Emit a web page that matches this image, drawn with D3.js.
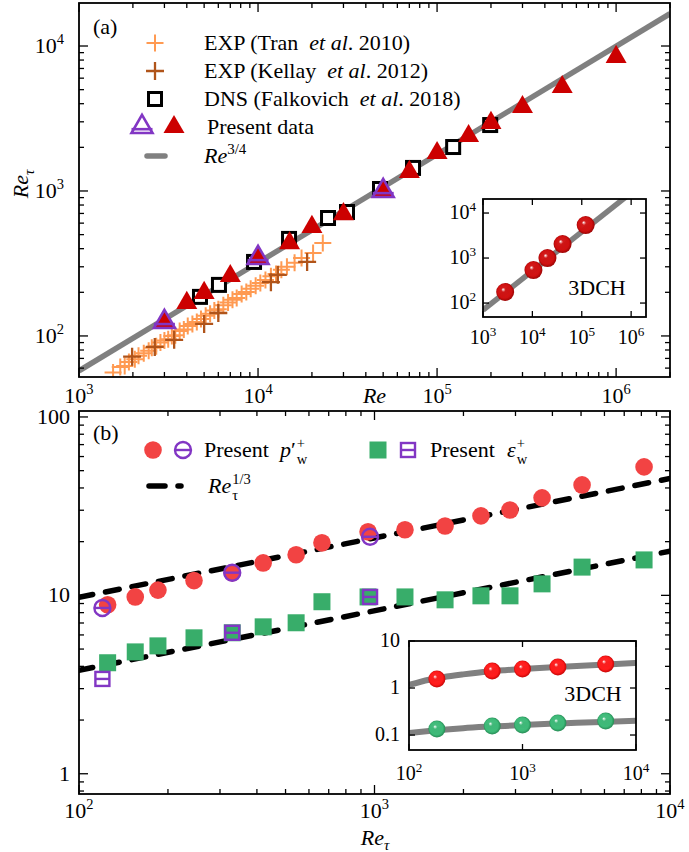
<!DOCTYPE html>
<html>
<head>
<meta charset="utf-8">
<script src="https://cdn.jsdelivr.net/npm/d3@7"></script>
<style>
  body { margin: 0; background: #fff; }
  svg { display: block; }
  text { font-family: "Liberation Serif", "Times New Roman", Times, serif; fill: #000; }
</style>
</head>
<body>
<svg id="chart" width="689" height="852"></svg>
<script>
// ---------- panel (a): Re_tau versus Re ----------
const tranRe = [1550, 1700, 1800, 1900, 2050, 2150, 2300, 2450, 2550, 2700, 2850, 3000, 3150, 3300, 3450, 3650, 3850, 4050, 4300, 4550, 4800, 5100, 5400, 5700, 6000, 6400, 6800, 7200, 7600, 8100, 8600, 9100, 9700, 10300, 11000, 11800, 12600, 13500, 14500, 16000, 17500, 20300, 23000];
const tranRt = [56, 61, 62, 66, 69, 73, 76, 79, 83, 85, 90, 93, 95, 100, 101, 108, 111, 117, 121, 125, 131, 138, 142, 150, 153, 163, 170, 178, 183, 195, 201, 212, 222, 232, 243, 258, 268, 286, 300, 320, 345, 373, 438];

const kellayRe = [1980, 2650, 3400, 5000, 6000, 11800, 12900, 18800];
const kellayRt = [72, 84, 94, 121, 144, 235, 264, 324];

const dnsRe = [4740, 6050, 9500, 14900, 24600, 31400, 48000, 73400, 123000, 198000];
const dnsRt = [186, 225, 324, 467, 651, 716, 1032, 1442, 2010, 2850];

const presRe = [3000, 4000, 5000, 7000, 10000, 15000, 20000, 30000, 50000, 70000, 100000, 150000, 200000, 300000, 500000, 1000000];
const presRt = [125, 169, 198, 259, 345, 437, 565, 693, 1000, 1353, 1828, 2393, 2944, 3795, 5210, 8400];

const presOpenRe = [3000, 10000, 50000];
const presOpenRt = [125, 345, 1000];

// Re^{3/4} reference line (end points)
const powLineRe = [1000, 2000000];
const powLineRt = [57.5, 16700];

// 3DCH inset
const chRe = [2810, 10500, 20200, 40900, 120000];
const chRt = [176, 541, 1000, 2050, 5410];
const chLineRe = [1000, 1000000];
const chLineRt = [70, 28200];

// ---------- panel (b): wall pressure / dissipation versus Re_tau ----------
const pRt = [125, 155, 185, 245, 330, 420, 543, 664, 951, 1268, 1733, 2292, 2874, 3690, 5040, 8170];
const pVal = [8.85, 9.8, 10.7, 12.1, 13.4, 15.2, 16.9, 19.7, 22.7, 23.3, 24.5, 27.9, 30.1, 35.2, 41.6, 52.5];
const pOpenRt = [120, 330, 966];
const pOpenVal = [8.5, 13.4, 21.3];

const eRt = [125, 155, 185, 245, 330, 420, 543, 664, 951, 1268, 1733, 2292, 2874, 3690, 5040, 8170];
const eVal = [4.19, 4.82, 5.21, 5.78, 6.17, 6.66, 7.02, 9.21, 9.8, 9.8, 9.44, 9.94, 9.94, 11.6, 14.4, 15.8];
const eOpenRt = [120, 330, 966];
const eOpenVal = [3.4, 6.17, 9.8];

// Re_tau^{1/3} guide lines (end points)
const dashRt = [100, 10000];
const pDash = [9.75, 45.2];
const eDash = [3.8, 17.7];

// 3DCH inset of panel (b)
const chPVal = [1.55, 2.30, 2.54, 2.80, 3.24];
const chEVal = [0.134, 0.155, 0.163, 0.180, 0.198];
const fitRt = [100, 150, 200, 300, 500, 700, 1000, 2000, 3000, 5000, 10000];
const fitP = [1.16, 1.5, 1.7, 1.95, 2.25, 2.4, 2.54, 2.8, 2.95, 3.12, 3.4];
const fitE = [0.11, 0.122, 0.13, 0.14, 0.15, 0.156, 0.163, 0.175, 0.182, 0.19, 0.2];

// ---------- colours ----------
const C = {
  tran: "#FF9A52", kellay: "#B0541A", red: "#CC0000", purple: "#8236C4",
  gray: "#808080", pRed: "#F24343", green: "#38AD6A"
};
const FS = 22;       // main text size
const FSI = 20;      // inset tick labels

const svg = d3.select("#chart");
const defs = svg.append("defs");

function ballGradient(id, base, dark) {
  const g = defs.append("radialGradient").attr("id", id)
    .attr("cx", "50%").attr("cy", "50%").attr("r", "55%")
    .attr("fx", "38%").attr("fy", "35%");
  g.append("stop").attr("offset", "0%").attr("stop-color", "#fff");
  g.append("stop").attr("offset", "22%").attr("stop-color", base).attr("stop-opacity", 0.95);
  g.append("stop").attr("offset", "70%").attr("stop-color", base);
  g.append("stop").attr("offset", "100%").attr("stop-color", dark);
}
ballGradient("ballDarkRed", "#D01010", "#8A0000");
ballGradient("ballRed", "#FF1A1A", "#B00000");
ballGradient("ballGreen", "#3DBA78", "#1E7A48");

// ---------- helpers ----------
function logTicks(scale) {
  const d = scale.domain();
  const lo = Math.min(d[0], d[1]), hi = Math.max(d[0], d[1]);
  const major = [], minor = [];
  for (let e = Math.floor(Math.log10(lo)); e <= Math.ceil(Math.log10(hi)); e++) {
    for (let k = 1; k < 10; k++) {
      const v = +(k * Math.pow(10, e)).toPrecision(6);
      if (v >= lo * 0.9999 && v <= hi * 1.0001) (k === 1 ? major : minor).push(v);
    }
  }
  return { major, minor };
}

function frame(g, x, y, o) {
  const [x0, x1] = x.range(), [yb, yt] = y.range();
  const M = o.major, m = o.minor;
  const xt = logTicks(x), yt2 = logTicks(y);
  const tick = (x1_, y1_, x2_, y2_) => g.append("line")
    .attr("x1", x1_).attr("y1", y1_).attr("x2", x2_).attr("y2", y2_)
    .attr("stroke", "#000").attr("stroke-width", o.tw || 1.3);
  const xs = [...xt.major.map(v => [v, M])].concat(o.minorTicks ? xt.minor.map(v => [v, m]) : []);
  xs.forEach(([v, L]) => { const px = x(v); tick(px, yb, px, yb - L); tick(px, yt, px, yt + L); });
  const ys = [...yt2.major.map(v => [v, M])].concat(o.minorTicks ? yt2.minor.map(v => [v, m]) : []);
  ys.forEach(([v, L]) => { const py = y(v); tick(x0, py, x0 + L, py); tick(x1, py, x1 - L, py); });
  g.append("rect").attr("x", x0).attr("y", yt).attr("width", x1 - x0).attr("height", yb - yt)
    .attr("fill", "none").attr("stroke", "#000").attr("stroke-width", o.sw || 1.8);
}

function powLabel(g, x, y, exp, size, anchor) {
  const t = g.append("text").attr("x", x).attr("y", y).attr("font-size", size)
    .attr("text-anchor", anchor);
  t.append("tspan").text("10");
  t.append("tspan").attr("dy", -0.42 * size).attr("font-size", size * 0.66).text(exp);
  return t;
}

function crossPath(s) { return `M${-s},0H${s}M0,${-s}V${s}`; }
function triPath(s) { const h = s * Math.sqrt(3) / 2; return `M0,${-2 * h / 3}L${s / 2},${h / 3}L${-s / 2},${h / 3}Z`; }

function drawOpenTriangle(g, cx, cy, s) {
  const h = s * Math.sqrt(3) / 2;
  g.append("path").attr("transform", `translate(${cx},${cy})`).attr("d", triPath(s))
    .attr("fill", "none").attr("stroke", C.purple).attr("stroke-width", 2.6).attr("stroke-linejoin", "miter");
  g.append("line").attr("x1", cx - s / 2).attr("x2", cx + s / 2)
    .attr("y1", cy + h * 0.12).attr("y2", cy + h * 0.12)
    .attr("stroke", C.purple).attr("stroke-width", 2.6);
}
function drawOpenCircle(g, cx, cy, r) {
  g.append("circle").attr("cx", cx).attr("cy", cy).attr("r", r)
    .attr("fill", "none").attr("stroke", C.purple).attr("stroke-width", 2.4);
  g.append("line").attr("x1", cx - r).attr("x2", cx + r).attr("y1", cy).attr("y2", cy)
    .attr("stroke", C.purple).attr("stroke-width", 2.4);
}
function drawOpenSquare(g, cx, cy, s) {
  g.append("rect").attr("x", cx - s / 2).attr("y", cy - s / 2).attr("width", s).attr("height", s)
    .attr("fill", "none").attr("stroke", C.purple).attr("stroke-width", 2.4);
  g.append("line").attr("x1", cx - s / 2).attr("x2", cx + s / 2).attr("y1", cy).attr("y2", cy)
    .attr("stroke", C.purple).attr("stroke-width", 2.4);
}

// text with a stacked subscript / superscript after a main part
function scriptText(g, x, y, parts, sub, sup, size, subStyle) {
  const t = g.append("text").attr("x", x).attr("y", y).attr("font-size", size);
  parts.forEach(p => t.append("tspan").attr("font-style", p.it ? "italic" : "normal").text(p.t));
  const w = t.node().getComputedTextLength();
  const small = size * 0.66;
  if (sub) g.append("text").attr("x", x + w + 1).attr("y", y + 0.32 * size).attr("font-size", small)
    .attr("font-style", subStyle || "normal").text(sub);
  if (sup) g.append("text").attr("x", x + w + 1).attr("y", y - 0.42 * size).attr("font-size", small).text(sup);
  return t;
}

// =====================================================
// Panel (a)
// =====================================================
const xA = d3.scaleLog().domain([1e3, 2e6]).range([79, 670]);
const yA = d3.scaleLog().domain([52.1, 19800]).range([377, 3]);
const gA = svg.append("g");
defs.append("clipPath").attr("id", "clipA").append("rect")
  .attr("x", 79).attr("y", 3).attr("width", 591).attr("height", 374);

const plotA = gA.append("g").attr("clip-path", "url(#clipA)");
const lineA = d3.line().x(d => xA(d[0])).y(d => yA(d[1]));

plotA.append("path").datum(d3.zip(powLineRe, powLineRt)).attr("d", lineA)
  .attr("fill", "none").attr("stroke", C.gray).attr("stroke-width", 5.5);

plotA.selectAll(".tran").data(d3.zip(tranRe, tranRt)).join("path")
  .attr("transform", d => `translate(${xA(d[0])},${yA(d[1])})`)
  .attr("d", crossPath(8.5)).attr("stroke", C.tran).attr("stroke-width", 2).attr("fill", "none");
plotA.selectAll(".kellay").data(d3.zip(kellayRe, kellayRt)).join("path")
  .attr("transform", d => `translate(${xA(d[0])},${yA(d[1])})`)
  .attr("d", crossPath(9)).attr("stroke", C.kellay).attr("stroke-width", 2.3).attr("fill", "none");

plotA.selectAll(".dns").data(d3.zip(dnsRe, dnsRt)).join("rect")
  .attr("x", d => xA(d[0]) - 6.5).attr("y", d => yA(d[1]) - 6.5)
  .attr("width", 13).attr("height", 13)
  .attr("fill", "#fff").attr("stroke", "#000").attr("stroke-width", 3);

plotA.selectAll(".pres").data(d3.zip(presRe, presRt)).join("path")
  .attr("transform", d => `translate(${xA(d[0])},${yA(d[1])})`)
  .attr("d", triPath(21)).attr("fill", C.red);

d3.zip(presOpenRe, presOpenRt).forEach(d => drawOpenTriangle(plotA, xA(d[0]), yA(d[1]), 21));

frame(gA, xA, yA, { major: 9, minor: 5, minorTicks: true });

// tick labels
[[1e3, "3"], [1e4, "4"], [1e5, "5"], [1e6, "6"]].forEach(([v, e]) => powLabel(gA, xA(v), 403, e, FS, "middle"));
[[1e2, "2"], [1e3, "3"], [1e4, "4"]].forEach(([v, e]) => powLabel(gA, 64, yA(v) + 7, e, FS, "end"));
gA.append("text").attr("x", xA(Math.sqrt(1e3 * 2e6))).attr("y", 403).attr("font-size", FS)
  .attr("text-anchor", "middle").attr("font-style", "italic").text("Re");
{
  const t = gA.append("text").attr("transform", "translate(28,184) rotate(-90)")
    .attr("font-size", FS).attr("text-anchor", "middle");
  t.append("tspan").attr("font-style", "italic").text("Re");
  t.append("tspan").attr("dy", 6).attr("font-size", 15).attr("font-style", "italic").text("τ");
}
gA.append("text").attr("x", 93).attr("y", 34).attr("font-size", FS).text("(a)");

// legend (a)
const legA = gA.append("g");
const legRows = [43, 71, 99, 127, 156];
legA.append("path").attr("transform", `translate(155,${legRows[0]})`).attr("d", crossPath(8.5))
  .attr("stroke", C.tran).attr("stroke-width", 2);
legA.append("path").attr("transform", `translate(155,${legRows[1]})`).attr("d", crossPath(9))
  .attr("stroke", C.kellay).attr("stroke-width", 2.3);
legA.append("rect").attr("x", 155 - 6.5).attr("y", legRows[2] - 6.5).attr("width", 13).attr("height", 13)
  .attr("fill", "#fff").attr("stroke", "#000").attr("stroke-width", 3);
drawOpenTriangle(legA, 142, legRows[3], 21);
legA.append("path").attr("transform", `translate(174,${legRows[3]})`).attr("d", triPath(21)).attr("fill", C.red);
legA.append("line").attr("x1", 147).attr("x2", 165).attr("y1", legRows[4]).attr("y2", legRows[4])
  .attr("stroke", C.gray).attr("stroke-width", 5.5).attr("stroke-linecap", "round");

// reference entry: "<kind> (<author>  et al. <year>)" with italic "et al"
function refText(g, x, y, kind, name, year) {
  const t = g.append("text").attr("x", x).attr("y", y).attr("font-size", FS);
  t.append("tspan").text(`${kind} (${name}`);
  t.append("tspan").attr("dx", 11).attr("font-style", "italic").text("et al");
  t.append("tspan").text(`. ${year})`);
  return t;
}
refText(legA, 204, legRows[0] + 7, "EXP", "Tran", 2010);
refText(legA, 204, legRows[1] + 7, "EXP", "Kellay", 2012);
refText(legA, 204, legRows[2] + 7, "DNS", "Falkovich", 2018);
legA.append("text").attr("x", 207).attr("y", legRows[3] + 7).attr("font-size", FS).text("Present data");
{
  const t = legA.append("text").attr("x", 204).attr("y", legRows[4] + 7).attr("font-size", FS);
  t.append("tspan").attr("font-style", "italic").text("Re");
  t.append("tspan").attr("dy", -9).attr("font-size", 15).text("3/4");
}

// inset (a)
const xAi = d3.scaleLog().domain([1e3, 2e6]).range([483, 646]);
const yAi = d3.scaleLog().domain([49, 20500]).range([317, 199]);
const gAi = svg.append("g");
gAi.append("rect").attr("x", 483).attr("y", 199).attr("width", 163).attr("height", 118).attr("fill", "#fff");
defs.append("clipPath").attr("id", "clipAi").append("rect")
  .attr("x", 483).attr("y", 199).attr("width", 163).attr("height", 118);
gAi.append("g").attr("clip-path", "url(#clipAi)").append("path")
  .datum(d3.zip(chLineRe, chLineRt))
  .attr("d", d3.line().x(d => xAi(d[0])).y(d => yAi(d[1])))
  .attr("fill", "none").attr("stroke", C.gray).attr("stroke-width", 5.5);
gAi.selectAll(".ball").data(d3.zip(chRe, chRt)).join("circle")
  .attr("cx", d => xAi(d[0])).attr("cy", d => yAi(d[1])).attr("r", 9)
  .attr("fill", "url(#ballDarkRed)");
frame(gAi, xAi, yAi, { major: 6, minor: 0, minorTicks: false, sw: 1.8 });
[[1e3, "3"], [1e4, "4"], [1e5, "5"], [1e6, "6"]].forEach(([v, e]) => powLabel(gAi, xAi(v), 344, e, FSI, "middle"));
[[1e2, "2"], [1e3, "3"], [1e4, "4"]].forEach(([v, e]) => powLabel(gAi, 476, yAi(v) + 6, e, FSI, "end"));
gAi.append("text").attr("x", 597).attr("y", 295).attr("font-size", FS).attr("text-anchor", "middle").text("3DCH");

// =====================================================
// Panel (b)
// =====================================================
const xB = d3.scaleLog().domain([100, 1e4]).range([79, 670]);
const yB = d3.scaleLog().domain([0.77, 108]).range([794, 411]);
const gB = svg.append("g");
defs.append("clipPath").attr("id", "clipB").append("rect")
  .attr("x", 79).attr("y", 411).attr("width", 591).attr("height", 383);
const plotB = gB.append("g").attr("clip-path", "url(#clipB)");
const lineB = d3.line().x(d => xB(d[0])).y(d => yB(d[1]));

[pDash, eDash].forEach(vals => plotB.append("path").datum(d3.zip(dashRt, vals)).attr("d", lineB)
  .attr("fill", "none").attr("stroke", "#000").attr("stroke-width", 5.5)
  .attr("stroke-linecap", "round").attr("stroke-dasharray", "14,13"));

plotB.selectAll(".pc").data(d3.zip(pRt, pVal)).join("circle")
  .attr("cx", d => xB(d[0])).attr("cy", d => yB(d[1])).attr("r", 8.8).attr("fill", C.pRed);
plotB.selectAll(".es").data(d3.zip(eRt, eVal)).join("rect")
  .attr("x", d => xB(d[0]) - 8.5).attr("y", d => yB(d[1]) - 8.5)
  .attr("width", 17).attr("height", 17).attr("fill", C.green);
d3.zip(pOpenRt, pOpenVal).forEach(d => drawOpenCircle(plotB, xB(d[0]), yB(d[1]), 8));
d3.zip(eOpenRt, eOpenVal).forEach(d => drawOpenSquare(plotB, xB(d[0]), yB(d[1]), 14));

frame(gB, xB, yB, { major: 9, minor: 5, minorTicks: true });
[[1e2, "2"], [1e3, "3"], [1e4, "4"]].forEach(([v, e]) => powLabel(gB, xB(v), 818, e, FS, "middle"));
[[1, "1"], [10, "10"], [100, "100"]].forEach(([v, s]) => gB.append("text")
  .attr("x", 70).attr("y", yB(v) + 7).attr("font-size", FS).attr("text-anchor", "end").text(s));
{
  const t = gB.append("text").attr("x", 375).attr("y", 845).attr("font-size", FS).attr("text-anchor", "middle");
  t.append("tspan").attr("font-style", "italic").text("Re");
  t.append("tspan").attr("dy", 5).attr("font-size", 15).attr("font-style", "italic").text("τ");
}
gB.append("text").attr("x", 93).attr("y", 440).attr("font-size", FS).text("(b)");

// legend (b)
const legB = gB.append("g");
legB.append("circle").attr("cx", 153).attr("cy", 450).attr("r", 8.8).attr("fill", C.pRed);
drawOpenCircle(legB, 183, 450, 8);
legB.append("text").attr("x", 204).attr("y", 457).attr("font-size", FS).text("Present");
scriptText(legB, 280, 457, [{ t: "p", it: true }, { t: "′" }], "w", "+", FS);
legB.append("rect").attr("x", 378 - 8.5).attr("y", 450 - 8.5).attr("width", 17).attr("height", 17).attr("fill", C.green);
drawOpenSquare(legB, 408, 450, 14);
legB.append("text").attr("x", 430).attr("y", 457).attr("font-size", FS).text("Present");
scriptText(legB, 507, 457, [{ t: "ε", it: true }], "w", "+", FS);
legB.append("line").attr("x1", 149).attr("x2", 165).attr("y1", 486).attr("y2", 486)
  .attr("stroke", "#000").attr("stroke-width", 5.5).attr("stroke-linecap", "round");
legB.append("line").attr("x1", 178).attr("x2", 181).attr("y1", 486).attr("y2", 486)
  .attr("stroke", "#000").attr("stroke-width", 5.5).attr("stroke-linecap", "round");
scriptText(legB, 208, 493, [{ t: "Re", it: true }], "τ", "1/3", FS);

// inset (b)
const xBi = d3.scaleLog().domain([100, 1e4]).range([409, 636]);
const yBi = d3.scaleLog().domain([0.048, 10]).range([750, 641]);
const gBi = svg.append("g");
gBi.append("rect").attr("x", 409).attr("y", 641).attr("width", 227).attr("height", 109).attr("fill", "#fff");
defs.append("clipPath").attr("id", "clipBi").append("rect")
  .attr("x", 409).attr("y", 641).attr("width", 227).attr("height", 109);
const lineBi = d3.line().x(d => xBi(d[0])).y(d => yBi(d[1])).curve(d3.curveMonotoneX);
const plotBi = gBi.append("g").attr("clip-path", "url(#clipBi)");
[fitP, fitE].forEach(vals => plotBi.append("path").datum(d3.zip(fitRt, vals)).attr("d", lineBi)
  .attr("fill", "none").attr("stroke", C.gray).attr("stroke-width", 6));
plotBi.selectAll(".bp").data(d3.zip(chRt, chPVal)).join("circle")
  .attr("cx", d => xBi(d[0])).attr("cy", d => yBi(d[1])).attr("r", 8.5).attr("fill", "url(#ballRed)");
plotBi.selectAll(".be").data(d3.zip(chRt, chEVal)).join("circle")
  .attr("cx", d => xBi(d[0])).attr("cy", d => yBi(d[1])).attr("r", 8.5).attr("fill", "url(#ballGreen)");
frame(gBi, xBi, yBi, { major: 6, minor: 0, minorTicks: false, sw: 1.8 });
[[1e2, "2"], [1e3, "3"], [1e4, "4"]].forEach(([v, e]) => powLabel(gBi, xBi(v), 780, e, FSI, "middle"));
[[0.1, "0.1"], [1, "1"], [10, "10"]].forEach(([v, s]) => gBi.append("text")
  .attr("x", 400).attr("y", yBi(v) + 6).attr("font-size", FSI).attr("text-anchor", "end").text(s));
gBi.append("text").attr("x", 593).attr("y", 701).attr("font-size", FS).attr("text-anchor", "middle").text("3DCH");
</script>
</body>
</html>
